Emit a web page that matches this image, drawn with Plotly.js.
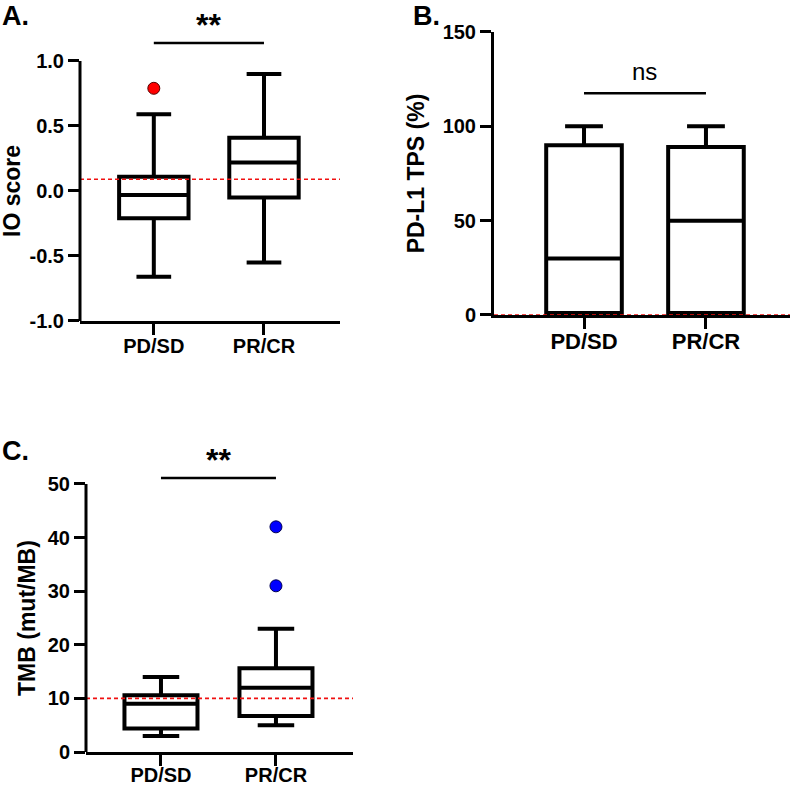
<!DOCTYPE html>
<html><head><meta charset="utf-8">
<script src="https://cdn.plot.ly/plotly-3.0.1.min.js"></script>
<style>html,body{margin:0;padding:0;background:#fff}</style>
</head><body><div id="chart" style="width:792px;height:786px"></div>
<script>
// ---------- data ----------
const categories = ['PD/SD', 'PR/CR'];
const catPos = [0, 1];

// Panel A: IO score
const ioQ1 = [-0.21, -0.05];
const ioMedian = [-0.03, 0.22];
const ioQ3 = [0.11, 0.41];
const ioMin = [-0.66, -0.55];
const ioMax = [0.59, 0.90];
const ioOutlierX = [0];
const ioOutlierY = [0.79];
const ioThreshold = 0.09;
const ioTickVals = [-1, -0.5, 0, 0.5, 1];
const ioTickText = ['-1.0', '-0.5', '0.0', '0.5', '1.0'];

// Panel B: PD-L1 TPS (%)
const tpsQ1 = [1, 1];
const tpsMedian = [30, 50];
const tpsQ3 = [90, 89];
const tpsMin = [0, 0];
const tpsMax = [100, 100];
const tpsThreshold = 0;
const tpsTickVals = [0, 50, 100, 150];
const tpsTickText = ['0', '50', '100', '150'];

// Panel C: TMB (mut/MB)
const tmbQ1 = [4.4, 6.7];
const tmbMedian = [9, 12];
const tmbQ3 = [10.6, 15.6];
const tmbMin = [3, 5];
const tmbMax = [14, 23];
const tmbOutlierX = [1, 1];
const tmbOutlierY = [42, 31];
const tmbThreshold = 10;
const tmbTickVals = [0, 10, 20, 30, 40, 50];
const tmbTickText = ['0', '10', '20', '30', '40', '50'];

// significance annotations
const sigLabels = ['**', 'ns', '**'];
const sigBarY = [1.138, 117.6, 51.1];
const sigTextY = [1.277, 128.8, 54.5];
const axisTop = [1, 150, 50];
const axisBottom = [-1, 0, 0];
const yTitles = ['IO score', 'PD-L1 TPS (%)', 'TMB (mut/MB)'];

// ---------- styling ----------
const FONT = 'Liberation Sans, Arial, sans-serif';
const boxLine = {color: '#000', width: 4};

function boxTrace(xa, ya, q1, med, q3, lo, hi, w) {
  return {
    type: 'box', xaxis: xa, yaxis: ya,
    x: catPos, q1: q1, median: med, q3: q3, lowerfence: lo, upperfence: hi,
    boxpoints: false, width: w, whiskerwidth: 0.5,
    fillcolor: '#fff', line: boxLine, hoverinfo: 'skip'
  };
}

const data = [
  boxTrace('x', 'y', ioQ1, ioMedian, ioQ3, ioMin, ioMax, 0.63),
  {type: 'scatter', mode: 'markers', xaxis: 'x', yaxis: 'y', x: ioOutlierX, y: ioOutlierY,
   marker: {color: '#ff0000', size: 12, line: {color: '#550000', width: 1}}, hoverinfo: 'skip'},
  {type: 'scatter', mode: 'lines', xaxis: 'x', yaxis: 'y', x: catPos, y: [sigBarY[0], sigBarY[0]],
   line: {color: '#000', width: 2.5}, hoverinfo: 'skip'},

  boxTrace('x2', 'y2', tpsQ1, tpsMedian, tpsQ3, tpsMin, tpsMax, 0.62),
  {type: 'scatter', mode: 'lines', xaxis: 'x2', yaxis: 'y2', x: catPos, y: [sigBarY[1], sigBarY[1]],
   line: {color: '#000', width: 2.5}, hoverinfo: 'skip'},

  boxTrace('x3', 'y3', tmbQ1, tmbMedian, tmbQ3, tmbMin, tmbMax, 0.635),
  {type: 'scatter', mode: 'markers', xaxis: 'x3', yaxis: 'y3', x: tmbOutlierX, y: tmbOutlierY,
   marker: {color: '#0000ff', size: 12, line: {color: '#000055', width: 1}}, hoverinfo: 'skip'},
  {type: 'scatter', mode: 'lines', xaxis: 'x3', yaxis: 'y3', x: catPos, y: [sigBarY[2], sigBarY[2]],
   line: {color: '#000', width: 2.5}, hoverinfo: 'skip'}
];

function xAxis(domain, range, anchor, fs, standoff) {
  return {
    domain: domain, range: range, anchor: anchor,
    tickvals: catPos, ticktext: categories,
    showline: true, linecolor: '#000', linewidth: 3,
    ticks: 'outside', ticklen: 11, tickwidth: 3, tickcolor: '#000',
    ticklabelstandoff: standoff,
    tickfont: {family: FONT, size: fs, color: '#000', weight: 'bold'},
    showgrid: false, zeroline: false, fixedrange: true
  };
}
function yAxis(domain, range, anchor, vals, text, title, showline) {
  const ax = {
    domain: domain, range: range, anchor: anchor,
    tickvals: vals, ticktext: text,
    showline: showline, linecolor: '#000', linewidth: 3,
    ticks: 'outside', ticklen: 11, tickwidth: 3, tickcolor: '#000',
    tickfont: {family: FONT, size: 20, color: '#000', weight: 'bold'},
    showgrid: false, zeroline: false, fixedrange: true
  };
  if (title) ax.title = {text: title, font: {family: FONT, size: 23, color: '#000', weight: 'bold'}, standoff: 12};
  return ax;
}

function thresholdShape(xa, ya, v) {
  return {type: 'line', xref: xa + ' domain', yref: ya, x0: 0, x1: 1, y0: v, y1: v,
          line: {color: '#f01010', width: 1.6, dash: '4px,3px'}, layer: 'above'};
}
function yLineShape(xa, ya, lo, hi) {
  return {type: 'line', xref: xa + ' domain', yref: ya, x0: 0, x1: 0, y0: lo, y1: hi,
          line: {color: '#000', width: 3}, layer: 'above'};
}
function yTitleAnn(ya, v, xpx, txt) {
  return {text: txt, xref: 'paper', yref: ya, x: xpx / 792, y: v, textangle: -90,
          xanchor: 'center', yanchor: 'middle', showarrow: false,
          font: {family: FONT, size: 23, color: '#000', weight: 'bold'}};
}
const letterFont = {family: FONT, size: 27, color: '#000', weight: 'bold'};
const starFont = {family: FONT, size: 32, color: '#000', weight: 'bold'};

const layout = {
  width: 792, height: 786,
  margin: {l: 0, r: 0, t: 0, b: 0},
  paper_bgcolor: '#fff', plot_bgcolor: '#fff',
  showlegend: false,
  xaxis: xAxis([0.10101, 0.42929], [-0.67, 1.69], 'y', 20, -6),
  yaxis: yAxis([0.59160, 0.99682], [-1, 1.45], 'x', ioTickVals, ioTickText, null, false),
  xaxis2: xAxis([0.62374, 0.99747], [-0.738, 1.689], 'y2', 22, -6),
  yaxis2: yAxis([0.59924, 0.95929], [0, 150], 'x2', tpsTickVals, tpsTickText, yTitles[1], true),
  xaxis3: xAxis([0.10859, 0.44571], [-0.652, 1.67], 'y3', 20, -8),
  yaxis3: yAxis([0.043257, 0.42519], [0, 56], 'x3', tmbTickVals, tmbTickText, null, false),
  shapes: [
    thresholdShape('x', 'y', ioThreshold),
    thresholdShape('x2', 'y2', tpsThreshold),
    thresholdShape('x3', 'y3', tmbThreshold),
    yLineShape('x', 'y', axisBottom[0], axisTop[0]),
    yLineShape('x3', 'y3', axisBottom[2], axisTop[2])
  ],
  annotations: [
    yTitleAnn('y', (axisBottom[0] + axisTop[0]) / 2, 12, yTitles[0]),
    yTitleAnn('y3', (axisBottom[2] + axisTop[2]) / 2, 27, yTitles[2]),
    {text: sigLabels[0], xref: 'x', yref: 'y', x: 0.5, y: sigTextY[0], showarrow: false, font: starFont},
    {text: sigLabels[1], xref: 'x2', yref: 'y2', x: 0.5, y: sigTextY[1], showarrow: false,
     font: {family: FONT, size: 24, color: '#000'}},
    {text: sigLabels[2], xref: 'x3', yref: 'y3', x: 0.5, y: sigTextY[2], showarrow: false, font: starFont},
    {text: 'A.', xref: 'paper', yref: 'paper', x: 0, y: 1 + 1 / 786, xanchor: 'left', yanchor: 'top',
     showarrow: false, font: letterFont},
    {text: 'B.', xref: 'paper', yref: 'paper', x: 411 / 792, y: 1 + 1 / 786, xanchor: 'left', yanchor: 'top',
     showarrow: false, font: letterFont},
    {text: 'C.', xref: 'paper', yref: 'paper', x: 0, y: 1 - 434 / 786, xanchor: 'left', yanchor: 'top',
     showarrow: false, font: letterFont}
  ]
};

Plotly.newPlot('chart', data, layout, {staticPlot: true, displayModeBar: false});
</script>
</body></html>
